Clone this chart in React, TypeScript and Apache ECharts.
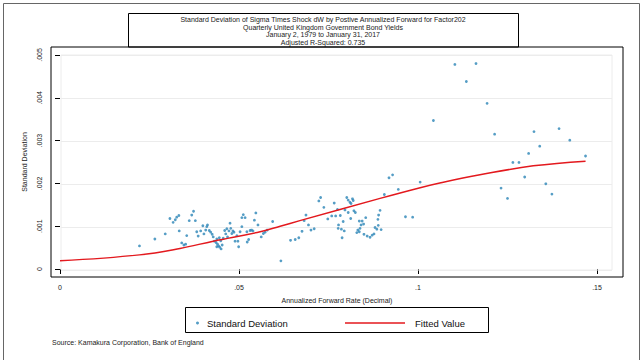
import React, { useEffect, useRef } from "react";
import * as echarts from "echarts";

const FONT = 'Arial, "Liberation Sans", sans-serif';

const titleLines = [
  "Standard Deviation of Sigma Times Shock dW by Postive Annualized Forward for Factor202",
  "Quarterly United Kingdom Government Bond Yields",
  "January 2, 1979 to January 31, 2017",
  "Adjusted R-Squared: 0.735",
];

const xTicks = [0, 0.05, 0.1, 0.15];
const xTickLabels = ["0", ".05", ".1", ".15"];
const yTicks = [0, 0.001, 0.002, 0.003, 0.004, 0.005];
const yTickLabels = ["0", ".001", ".002", ".003", ".004", ".005"];

// Scatter: annualized forward rate (x) and standard deviation (y)
const sdX = [
  0.1103, 0.1162, 0.1135, 0.1193, 0.1043, 0.1214, 0.1324, 0.1394, 0.1424, 0.134,
  0.1309, 0.1265, 0.1282, 0.1468, 0.1298, 0.1357, 0.1374, 0.1232, 0.125, 0.0919,
  0.0929, 0.0945, 0.1006, 0.0906, 0.0965, 0.0985,
  0.0728, 0.0723, 0.0737, 0.0766, 0.0801, 0.0805, 0.081, 0.0817, 0.0819, 0.0813,
  0.0687, 0.0682, 0.0694, 0.0701, 0.071, 0.0676, 0.0667, 0.0657, 0.0644, 0.0617,
  0.0748, 0.0759, 0.077, 0.0775, 0.0783, 0.0796, 0.0805, 0.0821, 0.0825, 0.0812,
  0.0791, 0.0778, 0.0777, 0.0786, 0.0794, 0.0788, 0.0836, 0.0844, 0.0848, 0.0854,
  0.0841, 0.0838, 0.0832, 0.0829, 0.0836, 0.0849, 0.0858, 0.0866, 0.0872, 0.0877,
  0.0885, 0.088, 0.0889, 0.0897, 0.0888, 0.089, 0.0894,
  0.0222, 0.0265, 0.0294, 0.0307, 0.0316, 0.0322, 0.0326, 0.0332, 0.0333, 0.034,
  0.0346, 0.0351, 0.0354, 0.0361, 0.0368, 0.0373, 0.0378, 0.0382, 0.0386, 0.0393,
  0.0399, 0.0402, 0.0407, 0.041, 0.0412, 0.0417, 0.0421, 0.0425, 0.0428, 0.0431,
  0.0436, 0.0438, 0.044, 0.0443, 0.0446, 0.045, 0.0453, 0.0438, 0.0445, 0.0449,
  0.0456, 0.046, 0.0463, 0.0466, 0.0468, 0.0472, 0.0475, 0.0477, 0.048, 0.0483,
  0.0486, 0.0489, 0.0494, 0.0497, 0.0499, 0.0503, 0.0508, 0.0508, 0.0512, 0.0517,
  0.0522, 0.0523, 0.0527, 0.0531, 0.0535, 0.0539, 0.0543, 0.0547, 0.0553, 0.0562,
  0.0568, 0.0573, 0.0579, 0.0594,
];
const sdY = [
  0.00478, 0.0048, 0.00438, 0.00387, 0.00347, 0.00315, 0.00321, 0.00328, 0.00301, 0.00287,
  0.0027, 0.00249, 0.00249, 0.00264, 0.00215, 0.00199, 0.00175, 0.00189, 0.00165, 0.00213,
  0.0022, 0.00186, 0.00203, 0.00174, 0.00122, 0.00121,
  0.00167, 0.00159, 0.00144, 0.00154, 0.00167, 0.00161, 0.00156, 0.00164, 0.0016, 0.00153,
  0.00126, 0.00113, 0.00103, 0.00091, 0.00094, 0.00088, 0.00073, 0.00069, 0.00067, 0.00019,
  0.00117, 0.00124, 0.00124, 0.00139, 0.00125, 0.00138, 0.00132, 0.00136, 0.00132, 0.00118,
  0.00111, 0.00103, 0.00095, 0.00093, 0.00089, 0.00073, 0.00112, 0.00112, 0.00105, 0.0012,
  0.00103, 0.00095, 0.00091, 0.00085, 0.00087, 0.00081, 0.00077, 0.00074, 0.00079, 0.00082,
  0.00093, 0.00097, 0.00102, 0.00092, 0.00116, 0.00126, 0.00137,
  0.00054, 0.0007, 0.00082, 0.00118, 0.00109, 0.00115, 0.00121, 0.00125, 0.00089, 0.00061,
  0.00056, 0.00058, 0.00078, 0.00113, 0.00126, 0.00135, 0.00113, 0.00087, 0.00077, 0.00089,
  0.00101, 0.00082, 0.00091, 0.00099, 0.00103, 0.0009, 0.00086, 0.00081, 0.00075, 0.00065,
  0.00062, 0.0007, 0.00058, 0.00054, 0.00051, 0.00047, 0.00056, 0.00052, 0.00073, 0.00066,
  0.00072, 0.0009, 0.00082, 0.00094, 0.00075, 0.00089, 0.00107, 0.00095, 0.00083, 0.00089,
  0.00086, 0.00065, 0.00078, 0.00065, 0.00052, 0.00087, 0.00099, 0.0012, 0.00127, 0.0012,
  0.00087, 0.00063, 0.00069, 0.0009, 0.00091, 0.00089, 0.00114, 0.00131, 0.00103, 0.00075,
  0.00083, 0.00086, 0.00091, 0.00111,
];

// Fitted value curve
const fitX = [0, 0.0222, 0.0335, 0.0428, 0.0559, 0.0615, 0.067, 0.0894, 0.1006, 0.1061, 0.1173, 0.1322, 0.1468];
const fitY = [0.00019, 0.00033, 0.00048, 0.00065, 0.00087, 0.001, 0.00113, 0.00165, 0.0019, 0.00201, 0.0022, 0.00241, 0.00252];

export default function App() {
  const ref = useRef<HTMLDivElement>(null);
  useEffect(() => {
    if (!ref.current) return;
    const chart = echarts.init(ref.current, undefined, { renderer: "svg" });
    const scatterData = sdX.map((x, i) => [x, sdY[i]]);
    const fitData = fitX.map((x, i) => [x, fitY[i]]);
    chart.setOption({
      animation: false,
      backgroundColor: "#fff",
      textStyle: { fontFamily: FONT },
      grid: [
        {
          left: 51, right: 17, top: 47, bottom: 83,
          show: true, borderColor: "#000", borderWidth: 1, backgroundColor: "transparent",
          z: 3,
        },
        {
          left: 61, right: 28, top: 55, bottom: 90,
          show: true, borderColor: "#ececec", borderWidth: 1, backgroundColor: "transparent",
          z: 1,
        },
      ],
      xAxis: [
        {
          type: "value", gridIndex: 0, min: -0.002514, max: 0.15726,
          axisLine: { show: false },
          splitLine: { show: false },
          axisTick: { show: true, length: 5, customValues: xTicks, lineStyle: { color: "#000" } },
          axisLabel: {
            customValues: xTicks, margin: 7, fontSize: 7, color: "#222", fontFamily: FONT,
            formatter: (v: number) => xTickLabels[xTicks.findIndex((t) => Math.abs(t - v) < 1e-9)] ?? "",
          },
          name: "Annualized Forward Rate (Decimal)", nameLocation: "middle", nameGap: 20,
          nameTextStyle: { fontSize: 7, color: "#222", fontFamily: FONT },
        },
        {
          type: "value", gridIndex: 1, min: 0, max: 1,
          axisLine: { show: false }, axisTick: { show: false }, axisLabel: { show: false },
          splitLine: { show: false },
        },
      ],
      yAxis: [
        {
          type: "value", gridIndex: 0, min: -0.000187, max: 0.005187,
          axisLine: { show: false },
          splitLine: { show: false },
          axisTick: { show: true, length: 5, customValues: yTicks, lineStyle: { color: "#000" } },
          axisLabel: {
            customValues: yTicks, margin: 8, fontSize: 7, color: "#222", rotate: 90, fontFamily: FONT,
            formatter: (v: number) => yTickLabels[yTicks.findIndex((t) => Math.abs(t - v) < 1e-9)] ?? "",
          },
          name: "Standard Deviation", nameLocation: "middle", nameGap: 23,
          nameTextStyle: { fontSize: 7, color: "#222", fontFamily: FONT },
        },
        {
          type: "value", gridIndex: 1, min: 0, max: 0.005, interval: 0.001,
          axisLine: { show: false }, axisTick: { show: false }, axisLabel: { show: false },
          splitLine: { show: true, lineStyle: { color: "#ececec", width: 1 } },
        },
      ],
      legend: [
        {
          data: [{ name: "Standard Deviation", icon: "circle" }],
          left: 191, top: 313, itemWidth: 3, itemHeight: 3,
          textStyle: { fontSize: 9.5, color: "#111", fontFamily: FONT, padding: [0, 0, 0, 3] },
          selectedMode: false,
        },
        {
          data: [{ name: "Fitted Value", icon: "rect" }],
          left: 340, top: 313, itemWidth: 60, itemHeight: 1.6,
          textStyle: { fontSize: 9.5, color: "#111", fontFamily: FONT, padding: [0, 0, 0, 5] },
          selectedMode: false,
        },
      ],
      series: [
        {
          type: "line", xAxisIndex: 1, yAxisIndex: 1, data: [], silent: true,
        },
        {
          name: "Standard Deviation", type: "scatter", xAxisIndex: 0, yAxisIndex: 0,
          data: scatterData, symbolSize: 2.8,
          itemStyle: { color: "#2a84b6" }, z: 3,
        },
        {
          name: "Fitted Value", type: "line", xAxisIndex: 0, yAxisIndex: 0,
          data: fitData, smooth: 0.4, showSymbol: false, symbol: "none",
          lineStyle: { color: "#e3191e", width: 1.5 }, itemStyle: { color: "#e3191e" }, z: 4,
        },
      ],
      graphic: [
        {
          type: "rect", left: 1, top: 1, shape: { x: 0, y: 0, width: 636, height: 357 },
          style: { fill: "none", stroke: "#666", lineWidth: 1 }, silent: true, z: -1,
        },
        {
          type: "rect", shape: { x: 128.5, y: 13.5, width: 390, height: 33.5 },
          style: { fill: "#fff", stroke: "#000", lineWidth: 1 }, silent: true,
        },
        ...titleLines.map((t, i) => ({
          type: "text", x: 323, y: 19.5 + i * 7.6,
          style: {
            text: t, fontSize: 7, fontFamily: FONT, fill: "#222",
            textAlign: "center", textVerticalAlign: "middle",
          },
          silent: true,
        })),
        {
          type: "rect", shape: { x: 185.5, y: 307.5, width: 303, height: 25 },
          style: { fill: "none", stroke: "#000", lineWidth: 1 }, silent: true,
        },
        {
          type: "text", x: 52, y: 342,
          style: {
            text: "Source: Kamakura Corporation, Bank of England", fontSize: 7, fontFamily: FONT,
            fill: "#222", textVerticalAlign: "middle",
          },
          silent: true,
        },
      ],
    });
    return () => chart.dispose();
  }, []);
  return (
    <div
      ref={ref}
      style={{ position: "absolute", left: 0, top: 0, width: 640, height: 360 }}
    />
  );
}
